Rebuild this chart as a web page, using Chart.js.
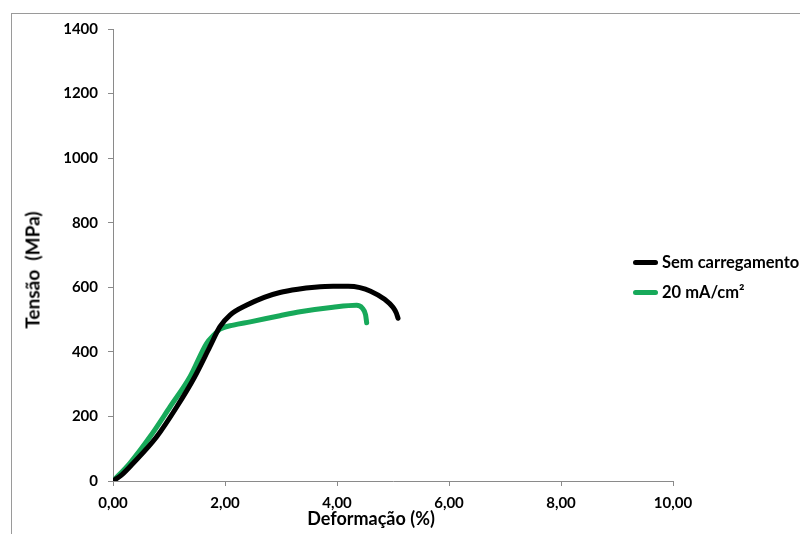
<!DOCTYPE html>
<html>
<head>
<meta charset="utf-8">
<script src="https://cdn.jsdelivr.net/npm/chart.js@4.4.0/dist/chart.umd.min.js"></script>
<style>
    body { margin: 0; background: #fff; overflow: hidden; }
    #wrap { position: relative; width: 800px; height: 534px; overflow: hidden; font-family: Lato, sans-serif; }
    #frame { position: absolute; left: 11px; top: 13px; width: 900px; height: 600px; border-left: 1px solid #9a9a9a; border-top: 1px solid #9a9a9a; }
    #chartTensao { position: absolute; left: 0; top: 0; }
    .axis-title { position: absolute; font-weight: bold; font-size: 18px; color: #000; white-space: pre; transform: translate(-50%, -50%); }
    #yTitle { left: 32px; top: 270px; font-size: 19px; transform: translate(-50%, -50%) rotate(-90deg); }
    #xTitle { left: 371px; top: 518px; }
    #legend { position: absolute; left: 633px; top: 251px; font-weight: bold; font-size: 16.5px; color: #000; white-space: nowrap; }
    .legend-item { display: flex; align-items: center; height: 22px; margin-bottom: 8px; }
    .legend-line { width: 25px; height: 5px; border-radius: 3px; margin-right: 4px; }
</style>
</head>
<body>
<div id="wrap">
    <div id="frame"></div>
    <canvas id="chartTensao" width="800" height="534"></canvas>
    <div class="axis-title" id="yTitle"></div>
    <div class="axis-title" id="xTitle"></div>
    <div id="legend"></div>
</div>
<script>
const seriesNames = ["Sem carregamento", "20 mA/cm²"];
const seriesColors = ["#000000", "#17a95a"];

// Deformação (%) x Tensão (MPa)
const semCargaX = [0, 0.15, 0.36, 0.78, 1.14, 1.46, 1.73, 1.91, 2.09, 2.39, 2.70, 2.98, 3.30, 3.60, 3.93, 4.20, 4.41, 4.60, 4.85, 5.00, 5.06, 5.09];
const semCargaY = [0, 18, 55, 137, 230, 323, 416, 478, 514, 545, 569, 584, 594, 600, 603, 603, 599, 588, 563, 538, 520, 504];

const cargaX = [0, 0.30, 0.66, 1.02, 1.375, 1.67, 1.80, 1.91, 2.15, 2.45, 2.98, 3.34, 3.93, 4.35, 4.45, 4.51, 4.53];
const cargaY = [0, 55, 137, 230, 323, 426, 452, 470, 483, 493, 512, 524, 538, 544, 536, 515, 490];

const xTicks = [0, 2, 4, 6, 8, 10];
const yTicks = [0, 200, 400, 600, 800, 1000, 1200, 1400];

const xTitle = "Deformação (%)";
const yTitle = "Tensão  (MPa)";

function toPoints(xs, ys) {
    return xs.map((x, i) => ({ x: x, y: ys[i] }));
}

document.getElementById("xTitle").textContent = xTitle;
document.getElementById("yTitle").textContent = yTitle;

const legendEl = document.getElementById("legend");
seriesNames.forEach((name, i) => {
    const item = document.createElement("div");
    item.className = "legend-item";
    item.innerHTML = `<span class="legend-line" style="background:${seriesColors[i]}"></span><span>${name}</span>`;
    legendEl.appendChild(item);
});

const axisColor = '#8a8a8a';
const tickFont = { family: 'Lato', size: 15, weight: 'bold' };

const ctx = document.getElementById("chartTensao").getContext('2d');

new Chart(ctx, {
    type: "scatter",
    data: {
        datasets: [
            {
                label: seriesNames[0],
                data: toPoints(semCargaX, semCargaY),
                borderColor: seriesColors[0],
                showLine: true,
                borderWidth: 5,
                pointRadius: 0,
                cubicInterpolationMode: 'monotone',
                borderCapStyle: 'round'
            },
            {
                label: seriesNames[1],
                data: toPoints(cargaX, cargaY),
                borderColor: seriesColors[1],
                showLine: true,
                borderWidth: 5,
                pointRadius: 0,
                cubicInterpolationMode: 'monotone',
                borderCapStyle: 'round'
            }
        ]
    },
    options: {
        responsive: false,
        animation: false,
        layout: { padding: { top: 29, right: 127, left: 0, bottom: 0 } },
        scales: {
            x: {
                type: 'linear',
                min: 0,
                max: 10,
                afterBuildTicks: (scale) => { scale.ticks = xTicks.map(v => ({ value: v })); },
                afterFit: (scale) => { scale.height = 53; },
                grid: { drawOnChartArea: false, drawTicks: true, tickLength: 5, color: axisColor },
                border: { display: true, color: axisColor },
                ticks: {
                    padding: 8,
                    color: '#000',
                    font: tickFont,
                    maxRotation: 0,
                    callback: (v) => v.toFixed(2).replace('.', ',')
                }
            },
            y: {
                min: 0,
                max: 1400,
                afterBuildTicks: (scale) => { scale.ticks = yTicks.map(v => ({ value: v })); },
                afterFit: (scale) => { scale.width = 113; },
                grid: { drawOnChartArea: false, drawTicks: true, tickLength: 5, color: axisColor },
                border: { display: true, color: axisColor },
                ticks: {
                    padding: 10,
                    color: '#000',
                    font: tickFont,
                    callback: (v) => String(v)
                }
            }
        },
        plugins: {
            legend: { display: false },
            tooltip: { enabled: false }
        }
    }
});
</script>
</body>
</html>
